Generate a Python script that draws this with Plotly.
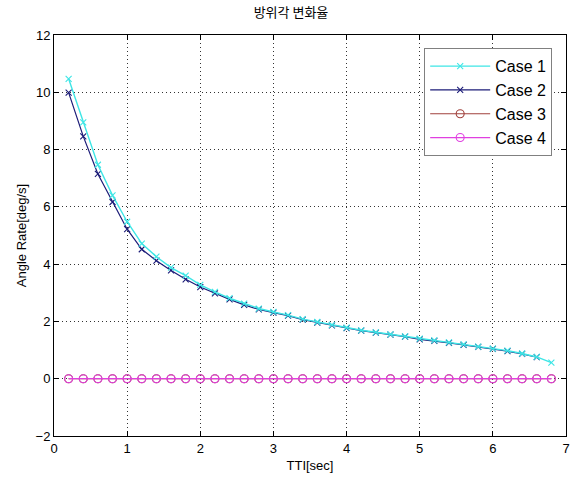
import plotly.graph_objects as go

# Time-to-intercept samples (s)
tti_case1 = [0.2, 0.4, 0.6, 0.8, 1.0, 1.2, 1.4, 1.6, 1.8, 2.0, 2.2, 2.4, 2.6, 2.8,
             3.0, 3.2, 3.4, 3.6, 3.8, 4.0, 4.2, 4.4, 4.6, 4.8, 5.0, 5.2, 5.4, 5.6,
             5.8, 6.0, 6.2, 6.4, 6.6, 6.8]
tti_case2 = tti_case1[:-1]

# Azimuth angle rate (deg/s)
rate_case1 = [10.47, 8.95, 7.47, 6.40, 5.48, 4.72, 4.26, 3.88, 3.60, 3.28, 3.03,
              2.81, 2.62, 2.45, 2.33, 2.22, 2.08, 1.98, 1.88, 1.78, 1.69, 1.62,
              1.55, 1.48, 1.40, 1.34, 1.27, 1.20, 1.12, 1.05, 0.98, 0.88, 0.76,
              0.56]
rate_case2 = [9.99, 8.46, 7.15, 6.17, 5.22, 4.52, 4.12, 3.78, 3.47, 3.20, 2.98,
              2.77, 2.58, 2.42, 2.31, 2.20, 2.06, 1.96, 1.86, 1.77, 1.68, 1.61,
              1.54, 1.47, 1.37, 1.32, 1.25, 1.18, 1.11, 1.04, 0.96, 0.87, 0.75]
rate_case3 = [0.0] * len(tti_case1)
rate_case4 = [0.0] * len(tti_case1)

x_ticks = [0, 1, 2, 3, 4, 5, 6, 7]
y_ticks = [-2, 0, 2, 4, 6, 8, 10, 12]

fig = go.Figure()

# Case 2 is drawn first so the Case 1 curve sits on top where they overlap
fig.add_trace(go.Scatter(
    x=tti_case2, y=rate_case2, name="Case 2", mode="lines+markers", legendrank=2,
    line=dict(color="#1c1c78", width=1.2),
    marker=dict(symbol="x-thin", size=6, line=dict(color="#1c1c78", width=1.1)),
))
fig.add_trace(go.Scatter(
    x=tti_case1, y=rate_case1, name="Case 1", mode="lines+markers", legendrank=1,
    line=dict(color="#3ee6e6", width=1.4),
    marker=dict(symbol="x-thin", size=6, line=dict(color="#3ee6e6", width=1.1)),
))
fig.add_trace(go.Scatter(
    x=tti_case1, y=rate_case3, name="Case 3", mode="lines+markers", legendrank=3,
    line=dict(color="#a0413c", width=1.2),
    marker=dict(symbol="circle-open", size=8, line=dict(color="#a0413c", width=1.1)),
))
fig.add_trace(go.Scatter(
    x=tti_case1, y=rate_case4, name="Case 4", mode="lines+markers", legendrank=4,
    line=dict(color="#e040e0", width=1.2),
    marker=dict(symbol="circle-open", size=8, line=dict(color="#e040e0", width=1.1)),
))

axis_common = dict(
    showline=True, linecolor="black", linewidth=1, mirror="ticks",
    ticks="inside", ticklen=5, tickcolor="black",
    showgrid=True, gridcolor="#333333", gridwidth=1, griddash="1px,3px",
    zeroline=False,
    tickfont=dict(family="Liberation Sans, Arial", size=13, color="black"),
)

fig.update_layout(
    width=582, height=483,
    margin=dict(l=54, r=14, t=35, b=45),
    paper_bgcolor="white", plot_bgcolor="white",
    title=dict(text="방위각 변화율", x=0.5, xanchor="center", y=0.975, yanchor="middle",
               font=dict(family="Noto Sans CJK KR", size=13, color="black")),
    xaxis=dict(range=[0, 7], tickvals=x_ticks,
               title=dict(text="TTI[sec]", standoff=6,
                          font=dict(family="Liberation Sans, Arial", size=13, color="black")),
               **axis_common),
    yaxis=dict(range=[-2, 12], tickvals=y_ticks,
               title=dict(text="Angle Rate[deg/s]", standoff=6,
                          font=dict(family="Liberation Sans, Arial", size=13, color="black")),
               **axis_common),
    legend=dict(x=0.973, xanchor="right", y=0.967, yanchor="top",
                bgcolor="white", bordercolor="#808080", borderwidth=1,
                font=dict(family="Liberation Sans, Arial", size=16, color="black"),
                tracegroupgap=0, itemwidth=60),
    showlegend=True,
)

fig.write_html("out.html")
